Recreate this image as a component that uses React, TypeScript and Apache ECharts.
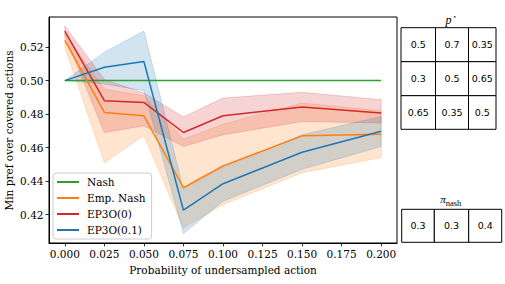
import React, { useEffect, useRef } from 'react';
import * as echarts from 'echarts';

const xs = [0, 0.025, 0.05, 0.075, 0.1, 0.15, 0.2];
const xTicks = [0, 0.025, 0.05, 0.075, 0.1, 0.125, 0.15, 0.175, 0.2];
const yTicks = [0.42, 0.44, 0.46, 0.48, 0.5, 0.52];

const nash = [0.5, 0.5, 0.5, 0.5, 0.5, 0.5, 0.5];
const empNash = [0.524, 0.481, 0.479, 0.436, 0.449, 0.467, 0.468];
const empNashLo = [0.52, 0.451, 0.467, 0.412, 0.426, 0.445, 0.454];
const empNashHi = [0.528, 0.495, 0.491, 0.465, 0.474, 0.4866, 0.482];
const ep0 = [0.5296, 0.488, 0.487, 0.469, 0.479, 0.4843, 0.4807];
const ep0Lo = [0.527, 0.469, 0.473, 0.4607, 0.4677, 0.4756, 0.4747];
const ep0Hi = [0.5326, 0.5006, 0.4926, 0.4782, 0.4896, 0.493, 0.4886];
const ep01 = [0.5, 0.508, 0.5114, 0.4226, 0.4384, 0.4572, 0.4697];
const ep01Lo = [0.5, 0.498, 0.494, 0.4087, 0.428, 0.447, 0.4607];
const ep01Hi = [0.5, 0.517, 0.5296, 0.435, 0.448, 0.4677, 0.4786];

const pStar = [
  [0.5, 0.7, 0.35],
  [0.3, 0.5, 0.65],
  [0.65, 0.35, 0.5],
];
const piNash = [0.3, 0.3, 0.4];

const C = {
  green: '#2ca02c',
  orange: '#ff7f0e',
  red: '#d62728',
  blue: '#1f77b4',
};

function rgba(hex: string, a: number) {
  const n = parseInt(hex.slice(1), 16);
  return `rgba(${(n >> 16) & 255},${(n >> 8) & 255},${n & 255},${a})`;
}

const SERIF = "'DejaVu Serif', serif";
const MATH = "'Liberation Serif', serif";
const SANS = "'DejaVu Sans', sans-serif";

function band(name: string, lo: number[], hi: number[], color: string) {
  return {
    type: 'custom',
    name,
    silent: true,
    z: 1,
    data: xs.map((x, i) => [x, lo[i], hi[i]]),
    encode: { x: 0, y: [1, 2] },
    renderItem: (params: any, api: any) => {
      if (params.dataIndex !== 0) return null;
      const top = xs.map((x, i) => api.coord([x, hi[i]]));
      const bot = xs.map((x, i) => api.coord([x, lo[i]])).reverse();
      return {
        type: 'polygon',
        shape: { points: top.concat(bot) },
        style: { fill: rgba(color, 0.2), stroke: rgba(color, 0.2), lineWidth: 1 },
      };
    },
  };
}

function line(name: string, vals: number[], color: string) {
  return {
    type: 'line',
    name,
    z: 3,
    symbol: 'none',
    color,
    lineStyle: { color, width: 1.5 },
    data: xs.map((x, i) => [x, vals[i]]),
  };
}

function table(rows: number[][], colEdges: number[], rowEdges: number[]) {
  const els: any[] = [];
  rows.forEach((row, r) => {
    row.forEach((v, c) => {
      const x0 = colEdges[c];
      const x1 = colEdges[c + 1];
      const y0 = rowEdges[r];
      const y1 = rowEdges[r + 1];
      els.push({
        type: 'rect',
        shape: { x: x0, y: y0, width: x1 - x0, height: y1 - y0 },
        style: { fill: '#fff', stroke: '#000', lineWidth: 1 },
      });
      els.push({
        type: 'text',
        x: (x0 + x1) / 2,
        y: (y0 + y1) / 2,
        style: {
          text: String(v),
          fontFamily: SANS,
          fontSize: 9.5,
          fill: '#000',
          align: 'center',
          verticalAlign: 'middle',
        },
      });
    });
  });
  return els;
}

export default function App() {
  const ref = useRef<HTMLDivElement>(null);
  useEffect(() => {
    const chart = echarts.init(ref.current!, null, { renderer: 'svg' });
    const option: any = {
      animation: false,
      backgroundColor: '#fff',
      grid: {
        left: 49,
        right: 108,
        top: 17,
        bottom: 41,
        show: true,
        borderColor: '#000',
        borderWidth: 1,
        backgroundColor: 'transparent',
      },
      legend: {
        orient: 'vertical',
        left: 53,
        top: 173,
        data: ['Nash', 'Emp. Nash', 'EP3O(0)', 'EP3O(0.1)'],
        icon: 'rect',
        itemWidth: 22,
        itemHeight: 2,
        itemGap: 4,
        padding: [3, 6, 3, 4],
        backgroundColor: 'rgba(255,255,255,0.8)',
        borderColor: '#cccccc',
        borderWidth: 1,
        borderRadius: 3,
        textStyle: {
          fontFamily: SERIF,
          fontSize: 10.5,
          color: '#000',
          lineHeight: 12,
          padding: [0, 0, 0, 3],
        },
      },
      xAxis: {
        type: 'value',
        min: -0.01,
        max: 0.21,
        splitLine: { show: false },
        axisLine: { show: true, onZero: false, lineStyle: { color: '#000', width: 1 } },
        axisTick: {
          show: true,
          customValues: xTicks,
          length: 3.5,
          lineStyle: { color: '#000', width: 0.8 },
        },
        axisLabel: {
          customValues: xTicks,
          formatter: (v: number) => v.toFixed(3),
          fontFamily: SERIF,
          fontSize: 10.5,
          color: '#000',
          margin: 5,
        },
      },
      yAxis: {
        type: 'value',
        min: 0.403,
        max: 0.538,
        splitLine: { show: false },
        axisLine: { show: true, onZero: false, lineStyle: { color: '#000', width: 1 } },
        axisTick: {
          show: true,
          customValues: yTicks,
          length: 3.5,
          lineStyle: { color: '#000', width: 0.8 },
        },
        axisLabel: {
          customValues: yTicks,
          formatter: (v: number) => v.toFixed(2),
          fontFamily: SERIF,
          fontSize: 10.5,
          color: '#000',
          margin: 5.5,
        },
      },
      series: [
        band('Emp. Nash band', empNashLo, empNashHi, C.orange),
        band('EP3O(0) band', ep0Lo, ep0Hi, C.red),
        band('EP3O(0.1) band', ep01Lo, ep01Hi, C.blue),
        line('Nash', nash, C.green),
        line('Emp. Nash', empNash, C.orange),
        line('EP3O(0)', ep0, C.red),
        line('EP3O(0.1)', ep01, C.blue),
      ],
      graphic: [
        {
          type: 'text',
          x: 223,
          y: 269.5,
          style: {
            text: 'Probability of undersampled action',
            fontFamily: SERIF,
            fontSize: 10.5,
            fill: '#000',
            align: 'center',
            verticalAlign: 'middle',
          },
        },
        {
          type: 'text',
          x: 9,
          y: 130.5,
          rotation: Math.PI / 2,
          style: {
            text: 'Min pref over covered actions',
            fontFamily: SERIF,
            fontSize: 10.5,
            fill: '#000',
            align: 'center',
            verticalAlign: 'middle',
          },
        },
        {
          type: 'text',
          x: 448.5,
          y: 20,
          style: {
            text: 'p',
            fontFamily: MATH,
            fontStyle: 'italic',
            fontSize: 12,
            fill: '#000',
            align: 'center',
            verticalAlign: 'middle',
          },
        },
        {
          type: 'text',
          x: 454.8,
          y: 17,
          style: {
            text: '\u22c6',
            fontFamily: SANS,
            fontSize: 7,
            fill: '#000',
            align: 'center',
            verticalAlign: 'middle',
          },
        },
        {
          type: 'text',
          x: 443,
          y: 198.5,
          style: {
            text: '\u03c0',
            fontFamily: MATH,
            fontStyle: 'italic',
            fontSize: 11,
            fill: '#000',
            align: 'center',
            verticalAlign: 'middle',
          },
        },
        {
          type: 'text',
          x: 453.5,
          y: 203,
          style: {
            text: 'nash',
            fontFamily: MATH,
            fontSize: 8.5,
            fill: '#000',
            align: 'center',
            verticalAlign: 'middle',
          },
        },
        ...table(pStar, [401, 435.5, 468.5, 496], [27.7, 61.7, 95.7, 129.3]),
        ...table([piNash], [401.7, 434.3, 468.7, 501.7], [209.3, 242.3]),
      ],
    };
    chart.setOption(option);
    return () => chart.dispose();
  }, []);
  return (
    <div
      ref={ref}
      style={{ position: 'absolute', left: 0, top: 0, width: 505, height: 284 }}
    />
  );
}
